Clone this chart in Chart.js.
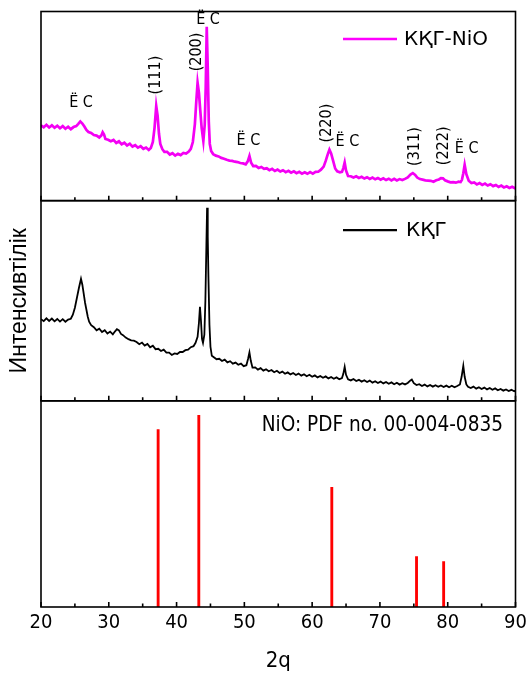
<!DOCTYPE html>
<html><head><meta charset="utf-8">
<script src="https://cdn.jsdelivr.net/npm/chart.js"></script>
<style>html,body{margin:0;padding:0;background:#fff;}#wrap{position:relative;width:527px;height:674px;}</style>
</head><body><div id="wrap"><canvas id="c" width="527" height="674"></canvas></div>
<script>
// ---- data (panel intensities in % of panel height) ----
const compositeTheta = [20.0,20.4,20.8,21.2,21.6,22.0,22.4,22.8,23.2,23.6,24.0,24.4,24.8,25.2,25.5,25.8,26.1,26.4,26.7,27.0,27.4,27.8,28.2,28.6,28.9,29.1,29.3,29.5,29.9,30.3,30.7,31.1,31.5,31.9,32.3,32.7,33.1,33.5,33.9,34.3,34.7,35.1,35.5,35.9,36.2,36.5,36.75,37.0,37.2,37.4,37.6,37.9,38.2,38.6,39.0,39.4,39.8,40.2,40.6,41.0,41.4,41.8,42.1,42.4,42.7,42.9,43.1,43.3,43.5,43.7,43.95,44.15,44.3,44.45,44.6,44.75,44.9,45.1,45.4,45.8,46.2,46.6,47.0,47.4,47.8,48.2,48.6,49.0,49.4,49.8,50.2,50.5,50.75,51.0,51.3,51.7,52.1,52.5,52.9,53.3,53.7,54.1,54.5,54.9,55.3,55.7,56.1,56.5,56.9,57.3,57.7,58.1,58.5,58.9,59.3,59.7,60.1,60.5,60.9,61.3,61.7,62.0,62.3,62.55,62.8,63.1,63.4,63.7,64.1,64.4,64.6,64.8,65.0,65.3,65.7,66.1,66.5,66.9,67.3,67.7,68.1,68.5,68.9,69.3,69.7,70.1,70.5,70.9,71.3,71.7,72.1,72.5,72.9,73.3,73.7,74.1,74.5,74.85,75.2,75.5,75.9,76.3,76.7,77.1,77.5,77.9,78.3,78.7,79.0,79.3,79.6,80.0,80.4,80.8,81.2,81.6,81.9,82.1,82.3,82.5,82.75,83.1,83.5,83.9,84.3,84.7,85.1,85.5,85.9,86.3,86.7,87.1,87.5,87.9,88.3,88.7,89.1,89.5,90.0];
const compositeIntensity = [39.8,38.8,40.1,38.7,39.8,38.5,39.6,38.3,39.4,38.0,39.1,37.8,38.9,39.4,40.6,41.9,40.8,39.2,37.4,36.3,35.8,34.7,34.4,33.4,34.4,36.2,35.0,32.6,32.2,31.4,32.1,30.5,31.4,29.8,30.6,29.2,30.1,28.6,29.3,28.0,28.8,27.4,28.1,26.8,27.8,31.0,38.5,50.1,45.0,35.5,30.0,27.2,25.8,25.8,24.4,25.1,23.8,24.8,24.1,25.2,24.9,26.0,27.4,31.0,40.5,52.0,62.4,57.0,47.5,38.5,31.5,40.0,60.0,91.9,70.0,42.0,30.0,26.2,24.6,23.8,23.4,22.6,22.2,21.6,21.2,21.0,20.6,20.4,19.9,19.7,19.2,20.8,23.6,20.0,18.3,18.4,17.3,17.8,16.8,17.1,16.1,16.8,15.7,16.4,15.4,16.1,15.1,15.8,14.8,15.5,14.5,15.2,14.3,15.0,14.2,15.1,14.3,15.2,15.3,16.4,18.0,21.0,24.5,27.0,25.0,21.0,17.0,15.5,15.0,15.2,17.2,20.2,16.0,13.0,12.9,12.2,12.9,12.0,12.6,11.7,12.4,11.5,12.2,11.3,12.0,11.1,11.8,10.9,11.6,10.7,11.5,10.7,11.4,10.9,11.5,12.3,13.8,14.6,13.6,12.2,11.4,11.1,10.7,10.6,10.5,10.0,10.8,11.2,11.9,11.8,10.8,10.2,9.7,9.8,9.5,10.0,9.8,11.0,14.5,19.0,14.0,10.5,9.3,9.6,8.6,9.3,8.3,9.0,8.0,8.7,7.7,8.3,7.3,8.0,7.0,7.6,6.7,7.3,6.4,6.8];

const kkgTheta = [20.0,20.4,20.8,21.2,21.6,22.0,22.4,22.8,23.2,23.6,24.0,24.4,24.7,25.0,25.3,25.6,25.9,26.1,26.3,26.5,26.7,26.9,27.1,27.4,27.8,28.2,28.6,29.0,29.4,29.8,30.2,30.6,30.9,31.2,31.5,31.8,32.1,32.5,32.9,33.3,33.7,34.1,34.5,34.9,35.3,35.7,36.1,36.5,36.9,37.3,37.7,38.1,38.5,38.9,39.3,39.7,40.1,40.5,40.9,41.3,41.7,42.1,42.5,42.8,43.1,43.3,43.45,43.6,43.75,43.9,44.1,44.25,44.4,44.5,44.6,44.7,44.85,45.0,45.2,45.5,45.9,46.3,46.7,47.1,47.5,47.9,48.3,48.7,49.1,49.5,49.9,50.3,50.55,50.75,50.95,51.2,51.6,52.0,52.4,52.8,53.2,53.6,54.0,54.4,54.8,55.2,55.6,56.0,56.4,56.8,57.2,57.6,58.0,58.4,58.8,59.2,59.6,60.0,60.4,60.8,61.2,61.6,62.0,62.4,62.8,63.2,63.6,64.0,64.4,64.6,64.8,65.0,65.3,65.7,66.1,66.5,66.9,67.3,67.7,68.1,68.5,68.9,69.3,69.7,70.1,70.5,70.9,71.3,71.7,72.1,72.5,72.9,73.3,73.7,74.1,74.5,74.7,75.0,75.4,75.8,76.2,76.6,77.0,77.4,77.8,78.2,78.6,79.0,79.4,79.8,80.2,80.6,81.0,81.4,81.8,82.05,82.3,82.5,82.75,83.0,83.4,83.8,84.2,84.6,85.0,85.4,85.8,86.2,86.6,87.0,87.4,87.8,88.2,88.6,89.0,89.4,89.8,90.0];
const kkgIntensity = [40.8,39.8,41.2,39.9,41.1,39.7,40.9,39.6,40.8,39.5,40.6,41.0,43.0,46.5,51.5,56.5,61.0,58.0,53.5,49.0,45.5,42.0,39.5,37.8,36.8,35.2,36.0,34.4,35.3,33.6,34.6,33.2,34.6,35.8,35.2,33.4,32.8,31.6,30.8,30.2,30.1,29.4,28.3,29.1,27.6,28.4,26.7,27.5,25.8,26.0,24.9,25.6,24.1,24.1,22.9,23.7,23.4,24.4,24.4,25.3,25.6,26.8,27.3,29.0,32.0,39.0,47.0,40.0,31.0,29.0,33.0,50.0,78.0,96.5,82.0,62.0,38.0,27.0,22.5,21.8,20.8,21.0,19.9,20.6,19.2,19.8,18.6,19.1,18.0,18.6,17.3,17.8,21.0,24.2,20.0,16.6,16.7,15.6,16.3,15.1,15.8,14.8,15.4,14.3,15.0,13.9,14.6,13.5,14.2,13.2,13.9,12.9,13.6,12.6,13.3,12.3,13.0,12.0,12.7,11.7,12.4,11.5,12.2,11.2,11.9,11.0,11.7,10.8,11.4,13.5,17.0,13.0,10.7,10.2,10.9,9.9,10.5,9.6,10.3,9.4,10.1,9.1,9.8,8.9,9.6,8.7,9.4,8.5,9.2,8.3,9.0,8.1,8.8,8.2,8.9,10.2,10.6,8.8,7.9,8.3,7.4,8.1,7.2,7.9,7.1,7.8,7.0,7.7,6.9,7.6,6.8,7.5,6.8,7.4,8.2,12.0,17.5,12.0,8.2,7.0,6.4,7.1,6.1,6.8,5.9,6.6,5.7,6.4,5.5,6.2,5.3,5.9,5.1,5.7,4.9,5.5,4.8,5.1];

const pdfTheta = [37.28, 43.28, 62.9, 75.4, 79.4];
const pdfIntensity = [86, 93, 58, 24.5, 22];

const xTickValues = [20, 30, 40, 50, 60, 70, 80, 90];
const seriesLabels = ['КҚГ-NiO', 'КҚГ', 'NiO: PDF no. 00-004-0835'];
const xTitle = '2q';
const yTitle = 'Интенсивтілік';

const annotationText = ['Ё С', '(111)', '(200)', 'Ё С', 'Ё С', '(220)', 'Ё С', '(311)', '(222)', 'Ё С'];
const annotationTheta = [25.9, 37.0, 42.94, 44.64, 50.6, 62.19, 65.2, 75.18, 79.47, 82.8];
const annotationLevel = [51.5, 66.4, 78.6, 95.5, 31.5, 41, 31, 28.6, 29.0, 27.5];
const annotationVertical = [false, true, true, false, false, true, false, true, true, false];

// ---- drawing ----
const FONT = 'DejaVu Sans Condensed';
const panelIds = ['yTop', 'yMid', 'yBot'];

const panelPlugin = {
  id: 'panels',
  afterDatasetsDraw(chart) {
    const ctx = chart.ctx, xs = chart.scales.x, area = chart.chartArea;
    ctx.save();
    ctx.strokeStyle = '#000';
    ctx.lineWidth = 1.6;
    panelIds.forEach(id => {
      const s = chart.scales[id];
      ctx.strokeRect(area.left, s.top, area.right - area.left, s.bottom - s.top);
      ctx.beginPath();
      for (let v = xs.min; v <= xs.max; v += 5) {
        const px = xs.getPixelForValue(v);
        const len = (v % 10 === 0) ? 5 : 3.5;
        ctx.moveTo(px, s.bottom);
        ctx.lineTo(px, s.bottom - len);
      }
      ctx.stroke();
    });
    const yTop = chart.scales.yTop, yMid = chart.scales.yMid, yBot = chart.scales.yBot;
    ctx.lineWidth = 2.6;
    ctx.strokeStyle = '#ff00ff';
    ctx.beginPath(); ctx.moveTo(343, yTop.top + 27.5); ctx.lineTo(397, yTop.top + 27.5); ctx.stroke();
    ctx.strokeStyle = '#000';
    ctx.lineWidth = 2.2;
    ctx.beginPath(); ctx.moveTo(343, yMid.top + 29.5); ctx.lineTo(397, yMid.top + 29.5); ctx.stroke();
    ctx.fillStyle = '#000';
    ctx.textBaseline = 'middle';
    ctx.textAlign = 'left';
    ctx.font = '20px "DejaVu Sans"';
    ctx.fillText(seriesLabels[0], 404, yTop.top + 28);
    ctx.fillText(seriesLabels[1], 406, yMid.top + 30);
    ctx.textAlign = 'right';
    ctx.font = '20.6px "' + FONT + '"';
    ctx.fillText(seriesLabels[2], 503, yBot.top + 25);
    ctx.font = '16px "' + FONT + '"';
    ctx.textAlign = 'center';
    annotationText.forEach((t, i) => {
      const px = xs.getPixelForValue(annotationTheta[i]);
      const py = yTop.getPixelForValue(annotationLevel[i]);
      ctx.save();
      ctx.translate(px, py);
      if (annotationVertical[i]) ctx.rotate(-Math.PI / 2);
      ctx.fillText(t, 0, 0);
      ctx.restore();
    });
    ctx.restore();
  }
};

const hiddenY = (weight, extra) => Object.assign({
  type: 'linear', position: 'left', stack: 'panels', stackWeight: weight,
  min: 0, max: 100, offset: false,
  ticks: { display: false }, grid: { display: false, drawTicks: false }, border: { display: false },
  afterFit(s) { s.width = 41; }
}, extra || {});

new Chart(document.getElementById('c'), {
  type: 'line',
  data: {
    datasets: [
      { label: seriesLabels[0], data: compositeTheta.map((t, i) => ({ x: t, y: compositeIntensity[i] })),
        yAxisID: 'yTop', borderColor: '#f400f4', borderWidth: 2.7, pointRadius: 0, tension: 0, fill: false },
      { label: seriesLabels[1], data: kkgTheta.map((t, i) => ({ x: t, y: kkgIntensity[i] })),
        yAxisID: 'yMid', borderColor: '#000', borderWidth: 1.8, pointRadius: 0, tension: 0, fill: false },
      { type: 'bar', label: seriesLabels[2], data: pdfTheta.map((t, i) => ({ x: t, y: pdfIntensity[i] })),
        yAxisID: 'yBot', backgroundColor: '#ff0000', borderWidth: 0, barThickness: 2.2 }
    ]
  },
  options: {
    responsive: false, animation: false, devicePixelRatio: 1,
    layout: { padding: { left: 0, top: 11.5, right: 11.5, bottom: 0 } },
    plugins: { legend: { display: false }, tooltip: { enabled: false } },
    scales: {
      x: {
        type: 'linear', position: 'bottom', min: 20, max: 90, offset: false,
        grid: { display: false, drawTicks: false }, border: { display: false },
        afterBuildTicks(s) { s.ticks = xTickValues.map(v => ({ value: v })); },
        ticks: { padding: 4, color: '#000', maxRotation: 0, autoSkip: false,
                 font: { family: FONT, size: 20 }, callback: v => String(v) },
        title: { display: true, text: xTitle, color: '#000',
                 font: { family: FONT, size: 22 }, padding: { top: 0, bottom: 0 } },
        afterFit(s) { s.height = 67; s.paddingLeft = 0; s.paddingRight = 0; }
      },
      yBot: hiddenY(206),
      yMid: hiddenY(200, { title: { display: true, text: yTitle, color: '#000',
                 font: { family: 'Liberation Sans', size: 23 }, padding: { top: 6, bottom: 0 } } }),
      yTop: hiddenY(189)
    }
  },
  plugins: [panelPlugin]
});
</script></body></html>
